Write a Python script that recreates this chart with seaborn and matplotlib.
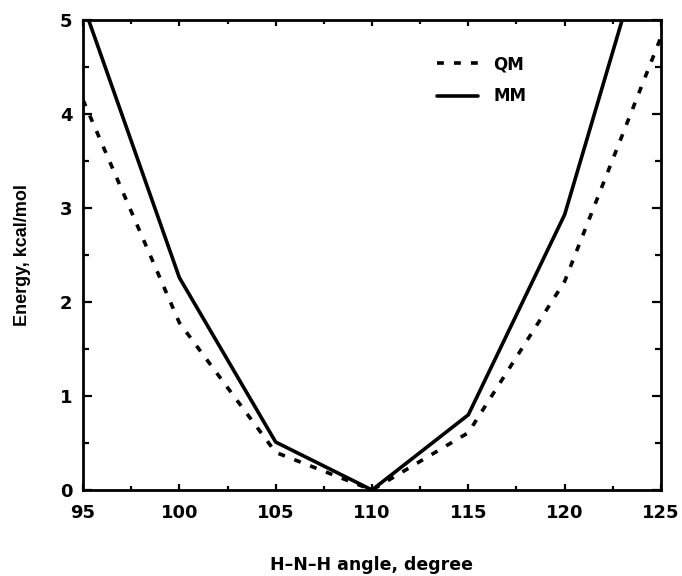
import matplotlib
matplotlib.use("Agg")
import matplotlib.pyplot as plt
from matplotlib.ticker import MultipleLocator
import seaborn as sns
import pandas as pd

angles = [95, 100, 105, 110, 115, 120, 125]
qm_energy = [4.15, 1.78, 0.40, 0.0, 0.61, 2.22, 4.82]
mm_energy = [5.17, 2.26, 0.51, 0.0, 0.80, 2.93, 6.40]
series_names = ["QM", "MM"]

sns.set_style("ticks")
plt.rcParams["font.family"] = ["DejaVu Sans"]
plt.rcParams["font.weight"] = "bold"
plt.rcParams["text.color"] = "black"
plt.rcParams["axes.labelcolor"] = "black"
plt.rcParams["xtick.color"] = "black"
plt.rcParams["ytick.color"] = "black"

df = pd.DataFrame({
    "angle": angles * 2,
    "energy": qm_energy + mm_energy,
    "method": [series_names[0]] * len(angles) + [series_names[1]] * len(angles),
})

fig = plt.figure(figsize=(6.82, 5.76), dpi=100)
ax = fig.add_axes([83/682, 86/576, 578/682, 470/576])

sns.lineplot(data=df[df.method == "QM"], x="angle", y="energy", ax=ax,
             color="black", lw=2.6, label="QM")
sns.lineplot(data=df[df.method == "MM"], x="angle", y="energy", ax=ax,
             color="black", lw=2.6, label="MM")
ax.lines[0].set_dashes((1.9, 2.8))

ax.set_xlim(95, 125)
ax.set_ylim(0, 5)
ax.xaxis.set_major_locator(MultipleLocator(5))
ax.xaxis.set_minor_locator(MultipleLocator(2.5))
ax.yaxis.set_major_locator(MultipleLocator(1))
ax.yaxis.set_minor_locator(MultipleLocator(0.5))
ax.tick_params(which="both", direction="in", top=True, right=True, width=1.6,
               colors="black")
ax.tick_params(axis="x", which="major", length=4.5, labelsize=13, pad=10)
ax.tick_params(axis="x", which="minor", length=3)
ax.tick_params(axis="y", which="major", length=6.5, labelsize=13, pad=7.5)
ax.tick_params(axis="y", which="minor", length=4)
for lab in ax.get_xticklabels() + ax.get_yticklabels():
    lab.set_fontweight("bold")
for s in ax.spines.values():
    s.set_linewidth(2.0)
    s.set_color("black")
    s.set_visible(True)

ax.set_xlabel("H\u2013N\u2013H angle, degree", fontsize=12.5, fontweight="bold")
ax.xaxis.set_label_coords(0.5, -75/470)
ax.xaxis.label.set_va("center")
ax.set_ylabel("Energy, kcal/mol", fontsize=13, fontweight="bold",
              family=["Liberation Sans", "DejaVu Sans"])
ax.yaxis.set_label_coords(-60/578, 0.5)
ax.yaxis.label.set_va("center")

leg = ax.legend(loc="upper left", bbox_to_anchor=(0.587, 0.957), frameon=False,
                fontsize=12, handlelength=2.45, labelspacing=0.85, handletextpad=0.9)
for t in leg.get_texts():
    t.set_fontweight("bold")
    t.set_color("black")

fig.savefig("out.png", dpi=100)
